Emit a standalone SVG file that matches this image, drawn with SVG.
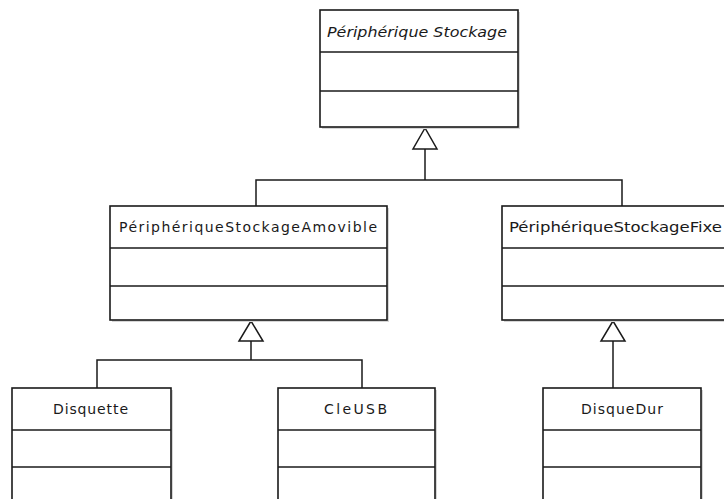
<svg xmlns="http://www.w3.org/2000/svg" width="724" height="499" viewBox="0 0 724 499">
<style>
.sh{fill:#d6d6d6;stroke:none}
.box{fill:#ffffff;stroke:#1a1a1a;stroke-width:1.6}
.sep{stroke:#1a1a1a;stroke-width:1.6;fill:none}
.con{stroke:#1a1a1a;stroke-width:1.5;fill:none}
.tri{fill:#ffffff;stroke:#1a1a1a;stroke-width:1.5;stroke-linejoin:miter}
.t{font-family:"DejaVu Sans","Liberation Sans",sans-serif;font-size:14px;fill:#1a1a1a;text-anchor:start}
.ti{font-family:"DejaVu Sans","Liberation Sans",sans-serif;font-size:13.5px;font-style:italic;fill:#1a1a1a}
</style>
<rect width="724" height="499" fill="#ffffff"/>
<g id="connectors">
<polyline class="con" points="425,149 425,180"/>
<polyline class="con" points="256,206 256,180 622,180 622,206"/>
<polygon class="tri" points="425,128 413,149 437,149"/>
<polyline class="con" points="251,341 251,360"/>
<polyline class="con" points="97,388 97,360 362,360 362,388"/>
<polygon class="tri" points="251,321 239,341 263,341"/>
<polyline class="con" points="613,341 613,388"/>
<polygon class="tri" points="613,321 601,341 625,341"/>
</g>
<g id="PeripheriqueStockage">
<rect class="sh" x="322" y="12" width="198" height="117"/>
<rect class="box" x="320" y="10" width="198" height="117"/>
<line class="sep" x1="320" y1="52" x2="518" y2="52"/>
<line class="sep" x1="320" y1="91" x2="518" y2="91"/>
<text class="ti" x="327" y="37" textLength="180" lengthAdjust="spacingAndGlyphs">Périphérique Stockage</text>
</g>
<g id="PeripheriqueStockageAmovible">
<rect class="sh" x="112" y="208" width="277" height="114"/>
<rect class="box" x="110" y="206" width="277" height="114"/>
<line class="sep" x1="110" y1="248" x2="387" y2="248"/>
<line class="sep" x1="110" y1="286" x2="387" y2="286"/>
<text class="t" x="119" y="232" textLength="258" lengthAdjust="spacing">PériphériqueStockageAmovible</text>
</g>
<g id="PeripheriqueStockageFixe">
<rect class="sh" x="504" y="208" width="238" height="114"/>
<rect class="box" x="502" y="206" width="238" height="114"/>
<line class="sep" x1="502" y1="248" x2="740" y2="248"/>
<line class="sep" x1="502" y1="286" x2="740" y2="286"/>
<text class="t" x="509" y="232" textLength="213" lengthAdjust="spacingAndGlyphs">PériphériqueStockageFixe</text>
</g>
<g id="Disquette">
<rect class="sh" x="14" y="390" width="159" height="122"/>
<rect class="box" x="12" y="388" width="159" height="122"/>
<line class="sep" x1="12" y1="430" x2="171" y2="430"/>
<line class="sep" x1="12" y1="467" x2="171" y2="467"/>
<text class="t" x="53" y="414" textLength="75" lengthAdjust="spacing">Disquette</text>
</g>
<g id="CleUSB">
<rect class="sh" x="280" y="390" width="157" height="122"/>
<rect class="box" x="278" y="388" width="157" height="122"/>
<line class="sep" x1="278" y1="430" x2="435" y2="430"/>
<line class="sep" x1="278" y1="467" x2="435" y2="467"/>
<text class="t" x="324" y="414" textLength="63" lengthAdjust="spacing">CleUSB</text>
</g>
<g id="DisqueDur">
<rect class="sh" x="545" y="390" width="158" height="122"/>
<rect class="box" x="543" y="388" width="158" height="122"/>
<line class="sep" x1="543" y1="430" x2="701" y2="430"/>
<line class="sep" x1="543" y1="467" x2="701" y2="467"/>
<text class="t" x="581" y="414" textLength="82" lengthAdjust="spacing">DisqueDur</text>
</g>
</svg>
